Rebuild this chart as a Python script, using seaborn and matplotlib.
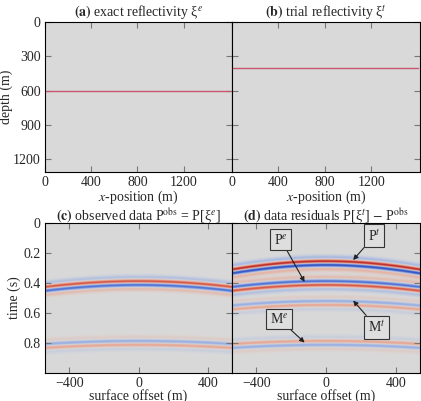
import numpy as np
import seaborn as sns
import matplotlib.pyplot as plt
from matplotlib.colors import LinearSegmentedColormap

# reflector depths (m) for exact / trial models
depth_exact = 600
depth_trial = 400
model_x = [0, 1600]
velocity = 3000  # m/s

# data axes
offset_range = [-540, 540]
time_range = [0.0, 1.0]

# events: (equivalent depth, amplitude) -- primaries at d, surface multiples at 2d
obs_events = [(600, 1.0), (1200, -0.45)]
res_events = [(400, 1.25), (600, -1.0), (800, -0.45), (1200, 0.45)]

depth_ticks = [0, 300, 600, 900, 1200]
x_ticks = [0, 400, 800, 1200]
time_ticks = [0, 0.2, 0.4, 0.6, 0.8]
time_labels = ["0", "0.2", "0.4", "0.6", "0.8"]
offset_ticks = [-400, 0, 400]
offset_labels = ["\u2212400", "0", "400"]

labels = [
    ("P$^e$", (-259, 0.112), (-123, 0.393)),
    ("P$^t$", (277, 0.086), (156, 0.247)),
    ("M$^e$", (-269, 0.64), (-123, 0.797)),
    ("M$^t$", (291, 0.696), (156, 0.517)),
]

sns.set_theme(style="ticks")
plt.rcParams["font.family"] = ["Liberation Serif", "DejaVu Serif"]
plt.rcParams["mathtext.fontset"] = "stix"
plt.rcParams["font.size"] = 10
plt.rcParams["axes.labelsize"] = 10
plt.rcParams["axes.titlesize"] = 10
plt.rcParams["xtick.labelsize"] = 10
plt.rcParams["ytick.labelsize"] = 10

bg = "#d9d9d9"
cmap = LinearSegmentedColormap.from_list(
    "seis", ["#2a48b8", "#7c9ce8", bg, "#ee9075", "#b41f24"])


def gather(events, nt=500, nx=240):
    t = np.linspace(time_range[0], time_range[1], nt)
    x = np.linspace(offset_range[0], offset_range[1], nx)
    img = np.zeros((nt, nx))
    f = 13.4
    for d, amp in events:
        t_ev = np.sqrt((2 * d / velocity) ** 2 + (x / velocity) ** 2)
        u = np.pi * f * (t[:, None] - t_ev[None, :])
        img += amp * (4 * u ** 3 - 6 * u) * np.exp(-u ** 2) / 1.95
    return img


def style_axis(ax):
    ax.tick_params(direction="in", length=4, width=0.8, color="#777777",
                   top=True, right=True, labelsize=10, pad=3)
    for s in ax.spines.values():
        s.set_color("black")
        s.set_linewidth(0.8)


fig = plt.figure(figsize=(4.21, 4.01), dpi=100)
W, H = 421, 401


def axes_px(x0, x1, y0, y1):
    return fig.add_axes([x0 / W, 1 - y1 / H, (x1 - x0) / W, (y1 - y0) / H])


ax_a = axes_px(45, 232, 22, 172)
ax_b = axes_px(232, 420, 22, 172)
ax_c = axes_px(45, 232, 223, 373)
ax_d = axes_px(232, 420, 223, 373)

# top row: reflectivity models
for ax, depth in [(ax_a, depth_exact), (ax_b, depth_trial)]:
    ax.set_facecolor(bg)
    sns.lineplot(x=model_x, y=[depth, depth], ax=ax, color="#c8566e", lw=1.0)
    ax.set_xlim(0, 1620)
    ax.set_ylim(1310, 0)
    ax.set_xticks(x_ticks)
    ax.set_yticks(depth_ticks)
    ax.set_xlabel("$x$-position (m)", labelpad=-0.5)
    style_axis(ax)
ax_a.set_ylabel("depth (m)")
ax_a.yaxis.set_label_coords(-0.17, 0.5)
ax_b.set_yticklabels([])
ax_a.set_title(r"$\mathbf{(a)}$ exact reflectivity ξ$^e$", pad=4)
ax_b.set_title(r"$\mathbf{(b)}$ trial reflectivity ξ$^t$", pad=4)

# bottom row: data
extent = [offset_range[0], offset_range[1], time_range[1], time_range[0]]
for ax, events in [(ax_c, obs_events), (ax_d, res_events)]:
    ax.imshow(gather(events), cmap=cmap, vmin=-1.3, vmax=1.3, aspect="auto",
              extent=extent, interpolation="bilinear")
    ax.set_xlim(offset_range)
    ax.set_ylim(time_range[1], time_range[0])
    ax.set_xticks(offset_ticks)
    ax.set_xticklabels(offset_labels)
    ax.set_yticks(time_ticks)
    ax.set_xlabel("surface offset (m)", labelpad=-0.5)
    style_axis(ax)
ax_c.set_yticklabels(time_labels)
ax_c.set_ylabel("time (s)")
ax_c.yaxis.set_label_coords(-0.128, 0.5)
ax_d.set_yticklabels([])
ax_c.set_title(r"$\mathbf{(c)}$ observed data P$^{\rm obs}$ = P[ξ$^e$]", pad=2)
ax_d.set_title(r"$\mathbf{(d)}$ data residuals P[ξ$^t$] $-$ P$^{\rm obs}$",
               pad=2)

for text, xy_text, xy in labels:
    ax_d.annotate(text, xy=xy, xytext=xy_text, ha="center", va="center",
                  fontsize=10,
                  bbox=dict(boxstyle="square,pad=0.25", fc="#dedede",
                            ec="#333333", lw=0.8),
                  arrowprops=dict(arrowstyle="-|>", color="#222222", lw=0.8,
                                  mutation_scale=7, shrinkA=0, shrinkB=0))

fig.savefig("out.png", dpi=100)
